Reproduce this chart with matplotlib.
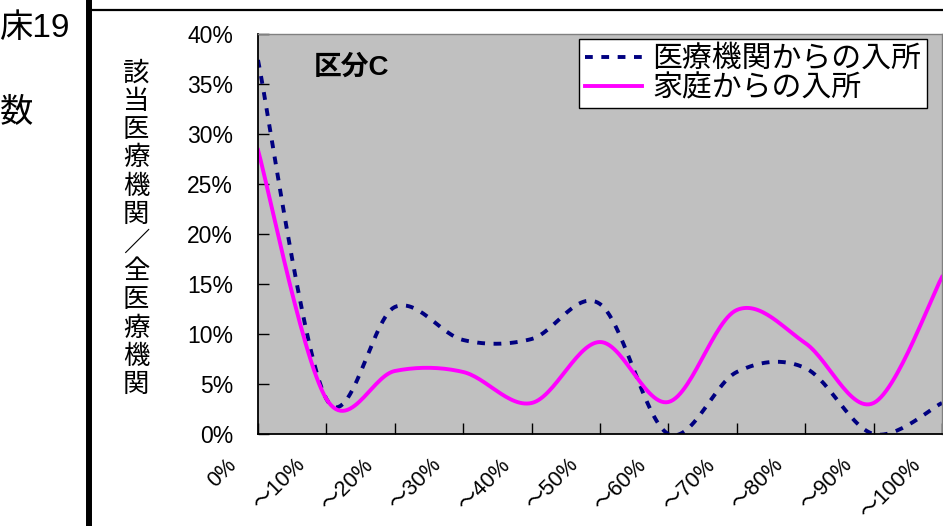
import numpy as np
import matplotlib
matplotlib.use("Agg")
import matplotlib.pyplot as plt
import matplotlib.transforms as mtransforms
from matplotlib.lines import Line2D
from matplotlib.ticker import PercentFormatter

plt.rcParams['font.family'] = ['Liberation Sans', 'Noto Sans CJK JP']

# data (percent)
categories = ['0%', '～10%', '～20%', '～30%', '～40%', '～50%',
              '～60%', '～70%', '～80%', '～90%', '～100%']
from_hospital = [37.4, 3.5, 12.7, 9.4, 9.5, 13.0, 0.0, 6.2, 6.6, 0.0, 3.1]
from_home = [28.4, 3.5, 6.3, 6.2, 3.1, 9.2, 3.2, 12.4, 9.1, 3.1, 15.7]
series_names = ['医療機関からの入所', '家庭からの入所']
ylabel_text = '該当医療機関／全医療機関'
panel_title = '区分C'

W, H = 943, 526


def px(x, y):
    # pixel position (from top-left) -> figure fraction
    return x / W, 1 - y / H


def smooth(values, n=30):
    # Catmull-Rom style bezier smoothing like Excel's smoothed lines
    v = np.asarray(values, dtype=float)
    x = np.arange(len(v), dtype=float)
    pts = np.column_stack([x, v])
    ext = np.vstack([pts[0], pts, pts[-1]])
    out = []
    t = np.linspace(0, 1, n)[:, None]
    for i in range(len(pts) - 1):
        p0, p1, p2, p3 = ext[i], ext[i + 1], ext[i + 2], ext[i + 3]
        c1 = p1 + (p2 - p0) / 6
        c2 = p2 - (p3 - p1) / 6
        seg = ((1 - t) ** 3) * p1 + 3 * ((1 - t) ** 2) * t * c1 \
            + 3 * (1 - t) * t ** 2 * c2 + t ** 3 * p2
        out.append(seg if i == 0 else seg[1:])
    out = np.vstack(out)
    return out[:, 0], out[:, 1] / 100


fig = plt.figure(figsize=(W / 100, H / 100), dpi=100)
l, b = px(258, 434)
r, t_ = px(942, 34)
ax = fig.add_axes([l, b, r - l, t_ - b])
ax.set_facecolor('#C0C0C0')

xs, ys = smooth(from_hospital)
ax.plot(xs, ys, color='#000080', lw=2.8, dashes=(2.0, 2.2),
        label=series_names[0])
xs, ys = smooth(from_home)
ax.plot(xs, ys, color='#FF00FF', lw=2.8, label=series_names[1])

ax.set_xlim(0, len(categories) - 1)
ax.set_ylim(0, 0.40)
ax.set_yticks(np.arange(0, 0.401, 0.05))
ax.yaxis.set_major_formatter(PercentFormatter(1.0, decimals=0))
ax.set_xticks(range(len(categories)))
ax.set_xticklabels([])
ax.tick_params(axis='both', direction='in', length=8, width=1, color='black')
ax.tick_params(axis='y', labelsize=16.5, pad=18)

for side in ['left', 'bottom']:
    ax.spines[side].set_color('black')
    ax.spines[side].set_linewidth(1.3)
for side in ['top', 'right']:
    ax.spines[side].set_color('#808080')
    ax.spines[side].set_linewidth(1)

off = mtransforms.ScaledTranslation(-0.25, -0.28, fig.dpi_scale_trans)
for i, lab in enumerate(categories):
    ax.text(i, 0, lab, transform=ax.get_xaxis_transform() + off,
            rotation=45, rotation_mode='anchor', ha='right', va='center',
            fontsize=15.5, clip_on=False)

leg = ax.legend(loc='upper right', bbox_to_anchor=px(927, 39),
                bbox_transform=fig.transFigure, fontsize=21.5,
                frameon=True, fancybox=False, framealpha=1,
                edgecolor='black', handlelength=1.9, handletextpad=0.35,
                borderpad=0.2, labelspacing=0.05, borderaxespad=0)
leg.get_frame().set_linewidth(1)

ax.text(*px(351, 68), panel_title, transform=fig.transFigure,
        ha='center', va='center', fontsize=20, fontweight='bold')

# vertical stacked y label
for i, ch in enumerate(ylabel_text):
    fig.text(*px(136, 73 + 28.4 * i), ch, ha='center', va='center',
             fontsize=19)

# cut off text from the neighbouring part of the page
fig.text(*px(0, 28), '床19', ha='left', va='center', fontsize=24)
fig.text(*px(0, 113), '数', ha='left', va='center', fontsize=24)

# black frame lines
fig.add_artist(Line2D([89 / W, 89 / W], [0, 1], color='black', lw=4.3,
                      transform=fig.transFigure))
fig.add_artist(Line2D([89 / W, 1], [1 - 10 / H, 1 - 10 / H], color='black',
                      lw=1.6, transform=fig.transFigure))

fig.savefig('out.png', dpi=100)
